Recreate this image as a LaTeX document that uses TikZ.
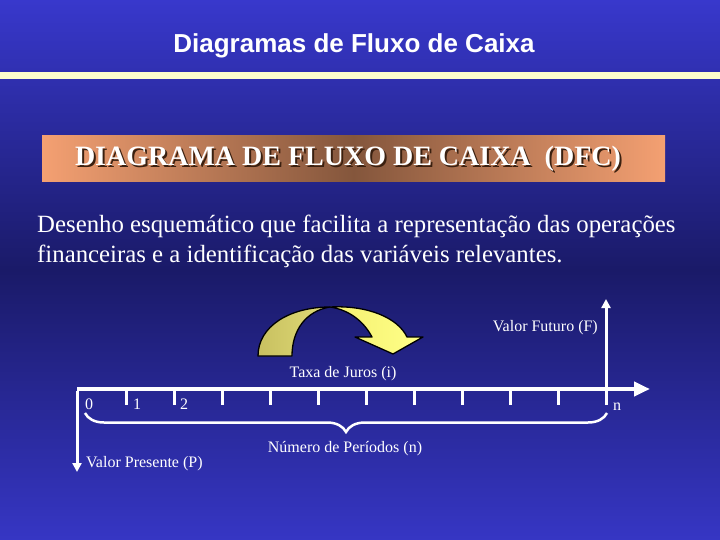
\documentclass[tikz,border=0pt]{standalone}
\usepackage{fontspec}
\setmainfont{Liberation Serif}
\newfontfamily\titlefont{Liberation Sans}
\usetikzlibrary{arrows.meta,decorations.pathreplacing}
\definecolor{bgA}{HTML}{3838CC}
\definecolor{bgB}{HTML}{1A1A68}
\definecolor{bgC}{HTML}{3636C4}
\definecolor{bandcol}{HTML}{FFFFCC}
\definecolor{orA}{HTML}{F4A072}
\definecolor{orB}{HTML}{84563C}
\definecolor{shadowcol}{HTML}{3A2010}
\definecolor{yelDarkA}{HTML}{C8C060}
\definecolor{yelDarkB}{HTML}{E0DC78}
\definecolor{yelA}{HTML}{F4F070}
\definecolor{yelB}{HTML}{FFFF88}
\newcommand{\bannertext}{DIAGRAMA DE FLUXO DE CAIXA\ \ (DFC)}
\begin{document}
\begin{tikzpicture}[x=1pt,y=-1pt,
  lbl/.style={text=white,font=\fontsize{16}{18}\selectfont,inner sep=0pt},
  body/.style={text=white,font=\fontsize{24.8}{28}\selectfont,inner sep=0pt,anchor=base west},
  axisline/.style={white,line width=4pt},
  tick/.style={white,line width=3pt},
  arrowshape/.style={draw=black,line width=1.3pt,line join=round}]
\useasboundingbox (0,0) rectangle (720,540);
\shade[shading angle=45,top color=bgA,bottom color=bgC,middle color=bgB] (0,0) rectangle (720,540);
% title
\node[font=\titlefont\bfseries\fontsize{26}{30}\selectfont,text=white,inner sep=0pt] (title) at (354,46) {Diagramas de Fluxo de Caixa};
\fill[bandcol] (0,72) rectangle (720,79);
% banner
\shade[left color=orA,right color=orA,middle color=orB] (42,136) rectangle (665,182);
\node[text=white,inner sep=0pt,font=\bfseries\fontsize{28}{32}\selectfont] (banner) at (348,160)
  {\rlap{\kern2pt\raisebox{-2pt}{\textcolor{shadowcol}{\bannertext}}}\bannertext};
% body text
\node[body] (line1) at (37,233) {Desenho esquemático que facilita a representação das operações};
\node[body] (line2) at (37,262) {financeiras e a identificação das variáveis relevantes.};
% curved arrow
\shade[arrowshape,left color=yelDarkA,right color=yelDarkB]
  (258,356) .. controls (258,326) and (290,307) .. (330,307)
  .. controls (306,311) and (292,330) .. (292,356) -- cycle;
\shade[arrowshape,left color=yelA,right color=yelB]
  (330,307) .. controls (368,305) and (398,318) .. (407,337)
  -- (423,337) -- (393,354) -- (355,337) -- (372,337)
  .. controls (364,322) and (350,310) .. (330,307) -- cycle;
% axis
\coordinate (o) at (77,389);
\coordinate (axend) at (650,389);
\coordinate (pdown) at (77,472);
\coordinate (nbase) at (606,405);
\coordinate (fup) at (606,299);
\draw[axisline,-{Triangle[length=16pt,width=14pt]}] (o) -- (axend);
\draw[white,line width=3pt,-{Triangle[length=9pt,width=9pt]}] ([yshift=-2pt]o) -- (pdown);
\draw[white,line width=3pt,-{Triangle[length=9pt,width=9pt]}] (nbase) -- (fup);
\foreach \k in {0,...,9} {
  \draw[tick] (126+48*\k,389) -- (126+48*\k,405);
}
% labels
\node[lbl,anchor=base east] (vf) at (598,331) {Valor Futuro (F)};
\node[lbl,anchor=base] (taxa) at (343,377) {Taxa de Juros (i)};
\node[lbl,anchor=base west] (l0) at (85,409) {0};
\node[lbl,anchor=base west] (l1) at (133,409) {1};
\node[lbl,anchor=base west] (l2) at (180,409) {2};
\node[lbl,anchor=base west] (ln) at (613,410) {n};
\node[lbl,anchor=base] (nper) at (345,452) {Número de Períodos (n)};
\node[lbl,anchor=base west] (vp) at (86,467) {Valor Presente (P)};
% brace
\coordinate (bl) at (85,413);
\coordinate (br) at (607,413);
\draw[white,line width=2.5pt,decorate,decoration={brace,amplitude=19pt,mirror}] (bl) -- (br);
\end{tikzpicture}
\end{document}
